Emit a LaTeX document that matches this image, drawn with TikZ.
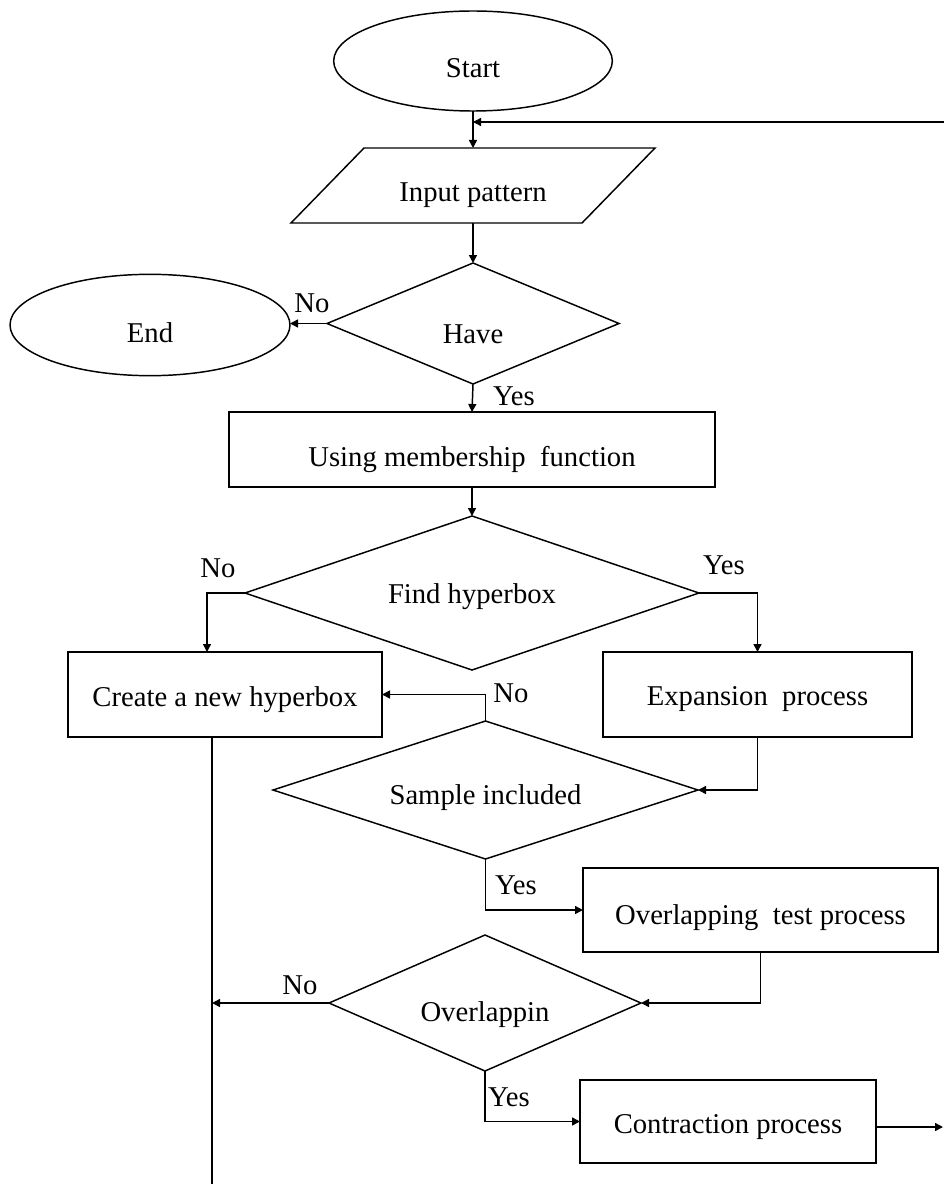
\documentclass[tikz,border=0pt]{standalone}
\usepackage{fontspec}
\setmainfont{Liberation Serif}
\usetikzlibrary{shapes.geometric,arrows.meta,calc}
\begin{document}
\begin{tikzpicture}[x=0.75pt,y=-0.75pt,
  every node/.style={font=\fontsize{21.5}{26}\selectfont, inner sep=0pt, outer sep=0pt},
  ln/.style={line width=1.1pt, draw=black},
  arr/.style={ln, -{Triangle[length=6pt,width=6pt]}},
  tx/.style={text height=#1, text depth=0pt},
  termbox/.style={ellipse, ln, minimum width=209pt, minimum height=75pt},
  procbox/.style={rectangle, ln},
  decbox/.style={diamond, ln},
  lbl/.style={text height=14.2pt, text depth=0pt}
]
\useasboundingbox (0,0) rectangle (944,1184);

% nodes
\node[termbox, tx=24.7pt] (start) at (473,61) {Start};
\node[rectangle, minimum width=218.25pt, minimum height=56.25pt, tx=24pt] (inp) at (473,185.5) {Input pattern};
\draw[ln] ($(inp.north west)+(36.5,0)$) -- ($(inp.north east)+(36.5,0)$) -- ($(inp.south east)+(-36.5,0)$) -- ($(inp.south west)+(-36.5,0)$) -- cycle;
\node[decbox, minimum width=219pt, minimum height=90.75pt, aspect=2.4, tx=30.7pt] (have) at (473,323.5) {Have};
\node[termbox, minimum width=210pt, minimum height=76pt, tx=25.5pt] (end) at (150,325) {End};
\node[procbox, minimum width=364.5pt, minimum height=56.25pt, tx=25.4pt] (using) at (472,449.5) {Using membership~~function};
\node[decbox, minimum width=340.5pt, minimum height=115.5pt, aspect=3, tx=15.7pt] (find) at (472,593) {Find hyperbox};
\node[procbox, minimum width=235.5pt, minimum height=63.75pt, tx=18pt] (create) at (225,694.5) {Create a new hyperbox};
\node[procbox, minimum width=231.75pt, minimum height=63.75pt, tx=16.4pt] (expand) at (757.5,694.5) {Expansion~~process};
\node[decbox, minimum width=318.75pt, minimum height=103.5pt, aspect=3, tx=21.7pt] (sample) at (485.5,790) {Sample included};
\node[procbox, minimum width=266.25pt, minimum height=63pt, tx=21.7pt] (otest) at (760.5,910) {Overlapping~~test process};
\node[decbox, minimum width=234pt, minimum height=102pt, aspect=2.3, tx=27.7pt] (overl) at (485,1003) {Overlappin};
\node[procbox, minimum width=222pt, minimum height=62.25pt, tx=18pt] (contr) at (728,1121.5) {Contraction process};

% free ends
\coordinate (fbin) at (944,122);
\coordinate (out) at (943,1127);
\coordinate (bottom) at (212,1184);

% labels
\node[lbl] (n1) at (312,303) {No};
\node[lbl] (y1) at (514,396) {Yes};
\node[lbl] (n2) at (218,568) {No};
\node[lbl] (y2) at (724,565) {Yes};
\node[lbl] (n3) at (511,693) {No};
\node[lbl] (y3) at (516,885) {Yes};
\node[lbl] (n4) at (300,985) {No};
\node[lbl] (y4) at (509,1097) {Yes};

% connectors
\draw[arr] (start.south) -- (inp.north);
\draw[arr] (fbin) -- (fbin -| start.south);
\draw[arr] (inp.south) -- (have.north);
\draw[arr] (have.west) -- (have.west -| end.east);
\draw[arr] (have.south) -- (using.north);
\draw[arr] (using.south) -- (find.north);
\draw[arr] (find.west) -| ($(create.north)+(-18,0)$);
\draw[arr] (find.east) -| (expand.north);
\draw[arr] (sample.north) |- (create.east);
\draw[arr] (expand.south) |- (sample.east);
\draw[arr] (sample.south) |- (otest.west);
\draw[arr] (otest.south) |- (overl.east);
\draw[ln] ($(create.south)+(-13,0)$) -- (bottom);
\draw[arr] (overl.west) -- (overl.west -| bottom);
\draw[arr] (overl.south) |- (contr.west);
\draw[arr] ($(contr.east)+(0,5.5)$) -- (out);
\end{tikzpicture}
\end{document}
